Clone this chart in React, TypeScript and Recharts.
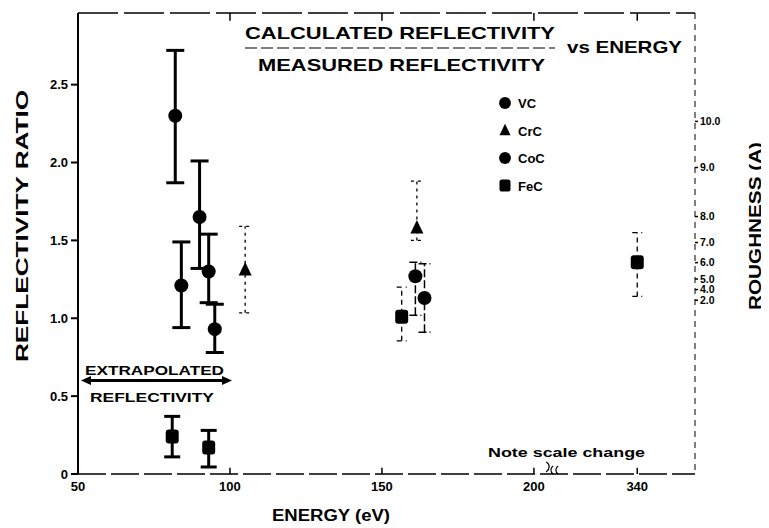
import React from 'react';
import {
  ScatterChart,
  Scatter,
  XAxis,
  YAxis,
  ErrorBar,
  ReferenceLine,
  ReferenceDot,
  Legend,
} from 'recharts';

const FONT = '"Liberation Sans", Arial, Helvetica, sans-serif';

// Energy (eV), reflectivity ratio, lower and upper ends of the error bar
const vcEnergy = [82, 84, 90, 93, 95];
const vcRatio = [2.3, 1.21, 1.65, 1.3, 0.93];
const vcLow = [1.87, 0.94, 1.32, 1.1, 0.78];
const vcHigh = [2.72, 1.49, 2.01, 1.54, 1.09];

const crcEnergy = [105, 161.5];
const crcRatio = [1.31, 1.58];
const crcLow = [1.035, 1.5];
const crcHigh = [1.59, 1.88];

const cocEnergy = [161, 164];
const cocRatio = [1.27, 1.13];
const cocLow = [1.02, 0.91];
const cocHigh = [1.36, 1.35];

const fecEnergy = [81, 93, 156.5, 340];
const fecRatio = [0.24, 0.17, 1.01, 1.36];
const fecLow = [0.11, 0.045, 0.855, 1.14];
const fecHigh = [0.37, 0.28, 1.2, 1.55];

const xTickLabels = [50, 100, 150, 200, 340];
const yTicks = [0, 0.5, 1.0, 1.5, 2.0, 2.5];
const roughnessLabels = ['10.0', '9.0', '8.0', '7.0', '6.0', '5.0', '4.0', '2.0'];
const roughnessPos = [2.264, 1.968, 1.653, 1.486, 1.357, 1.252, 1.184, 1.116];
const legendNames = ['VC', 'CrC', 'CoC', 'FeC'];
const extrapolatedRatio = 0.6;

// axis break: energies above 200 eV are drawn on a compressed scale
const BREAK_AT = 200;
const BREAK_POS = 234;
const plotX = (e: number) => (e <= BREAK_AT ? e : BREAK_POS + (e - 340) * 0.25);

const rows = (en: number[], r: number[], lo: number[], hi: number[], keep = (e: number) => true) =>
  en
    .map((e, i) => ({ x: plotX(e), energy: e, y: r[i], err: [r[i] - lo[i], hi[i] - r[i]] }))
    .filter((d) => keep(d.energy));

const vcData = rows(vcEnergy, vcRatio, vcLow, vcHigh);
const crcData = rows(crcEnergy, crcRatio, crcLow, crcHigh);
const cocData = rows(cocEnergy, cocRatio, cocLow, cocHigh);
const fecLowE = rows(fecEnergy, fecRatio, fecLow, fecHigh, (e) => e < 120);
const fecHighE = rows(fecEnergy, fecRatio, fecLow, fecHigh, (e) => e >= 120);

const marker = (name: string, cx: number, cy: number, s = 1) => {
  if (name === 'CrC')
    return (
      <polygon
        points={`${cx},${cy - 8 * s} ${cx - 6.5 * s},${cy + 5.5 * s} ${cx + 6.5 * s},${cy + 5.5 * s}`}
        fill="#000"
      />
    );
  if (name === 'FeC')
    return <rect x={cx - 6.5 * s} y={cy - 7 * s} width={13 * s} height={14 * s} rx={3 * s} fill="#000" />;
  return <circle cx={cx} cy={cy} r={7 * s} fill="#000" />;
};

const shapeFor = (name: string) => (p: any) => marker(name, p.cx, p.cy);

const ExtrapolatedArrow = (p: any) => {
  const { x1, y1, x2 } = p;
  const a = x1 + 3;
  const b = x2 + 2;
  return (
    <g>
      <line x1={a + 4} y1={y1} x2={b - 4} y2={y1} stroke="#000" strokeWidth={3} />
      <polygon points={`${a},${y1} ${a + 10},${y1 - 4.5} ${a + 10},${y1 + 4.5}`} fill="#000" />
      <polygon points={`${b},${y1} ${b - 10},${y1 - 4.5} ${b - 10},${y1 + 4.5}`} fill="#000" />
      <text x={a + 4} y={y1 - 6} textLength={139} lengthAdjust="spacingAndGlyphs" fontFamily={FONT} fontSize={13} fontWeight={700} fill="#000">
        EXTRAPOLATED
      </text>
      <text x={a + 9} y={y1 + 21} textLength={124} lengthAdjust="spacingAndGlyphs" fontFamily={FONT} fontSize={13} fontWeight={700} fill="#000">
        REFLECTIVITY
      </text>
    </g>
  );
};

const BreakMark = (p: any) => {
  const { cx, cy } = p;
  return (
    <g fill="none" stroke="#000" strokeWidth={1.2}>
      <path d={`M${cx - 6},${cy - 12} c4,2 4,7 0,10`} />
      <path d={`M${cx + 1},${cy - 8} c-3,2 -3,6 0,8`} />
      <path d={`M${cx + 6},${cy - 8} c-3,2 -3,6 0,8`} />
    </g>
  );
};

const renderLegend = () => (
  <svg width={70} height={110} style={{ overflow: 'visible', display: 'block' }}>
    {legendNames.map((n, i) => (
      <g key={n} transform={`translate(0, ${10 + i * 27.5})`}>
        {marker(n, 9, 0, 0.85)}
        <text x={22} y={5} fontFamily={FONT} fontSize={13} fontWeight={700} fill="#000">
          {n}
        </text>
      </g>
    ))}
  </svg>
);

const tickStyle = { fill: '#000', fontSize: 13, fontWeight: 700, fontFamily: FONT };

export default function App() {
  return (
    <ScatterChart width={761} height={520} margin={{ top: 5, right: 0, bottom: 0, left: 0 }}>
      <XAxis
        type="number"
        dataKey="x"
        domain={[50, 253]}
        ticks={xTickLabels.map(plotX)}
        tickFormatter={(v: number) => String(xTickLabels[xTickLabels.map(plotX).indexOf(v)])}
        allowDataOverflow
        height={54}
        tickSize={0}
        tickMargin={8}
        tickLine={false}
        axisLine={{ stroke: '#000', strokeWidth: 1.5, strokeDasharray: '28 5' }}
        tick={tickStyle}
      />
      <YAxis
        type="number"
        dataKey="y"
        domain={[0, 2.96]}
        ticks={yTicks}
        allowDataOverflow
        width={70}
        tickSize={7}
        tickMargin={3}
        tickFormatter={(v: number) => (v === 0 ? '0' : v.toFixed(1))}
        axisLine={{ stroke: '#000', strokeWidth: 2 }}
        tickLine={{ stroke: '#000', strokeWidth: 2 }}
        tick={tickStyle}
      />
      <YAxis
        yAxisId="r"
        orientation="right"
        type="number"
        domain={[0, 2.96]}
        ticks={roughnessPos}
        interval={0}
        allowDataOverflow
        width={74}
        tickSize={3}
        tickMargin={2}
        tickFormatter={(v: number) => roughnessLabels[roughnessPos.indexOf(v)]}
        axisLine={{ stroke: '#000', strokeWidth: 1, strokeDasharray: '6 5' }}
        tickLine={{ stroke: '#000', strokeWidth: 1.5 }}
        tick={{ ...tickStyle, fontSize: 10.5, textAnchor: 'start' }}
      />

      <ReferenceLine y={2.96} stroke="#000" strokeWidth={1.5} strokeDasharray="40 6" />
      {xTickLabels.slice(1).map((t) => (
        <ReferenceLine key={'bt' + t} segment={[{ x: plotX(t), y: 0 }, { x: plotX(t), y: 0.04 }]} stroke="#000" strokeWidth={1.5} />
      ))}
      {xTickLabels.slice(1).map((t) => (
        <ReferenceLine key={'tt' + t} segment={[{ x: plotX(t), y: 2.96 }, { x: plotX(t), y: 2.91 }]} stroke="#000" strokeWidth={1.5} />
      ))}
      <ReferenceLine
        segment={[{ x: 50, y: extrapolatedRatio }, { x: 100, y: extrapolatedRatio }]}
        shape={ExtrapolatedArrow}
      />
      <ReferenceDot x={206} y={0} r={1} shape={BreakMark} />

      <Scatter name="VC" data={vcData} fill="#000" shape={shapeFor('VC')} isAnimationActive={false}>
        <ErrorBar dataKey="err" direction="y" width={9} stroke="#000" strokeWidth={3} isAnimationActive={false} />
      </Scatter>
      <Scatter name="CrC" data={crcData} fill="#000" shape={shapeFor('CrC')} isAnimationActive={false}>
        <ErrorBar dataKey="err" direction="y" width={6} stroke="#000" strokeWidth={1.3} strokeDasharray="3 4" isAnimationActive={false} />
      </Scatter>
      <Scatter name="CoC" data={cocData} fill="#000" shape={shapeFor('CoC')} isAnimationActive={false}>
        <ErrorBar dataKey="err" direction="y" width={6} stroke="#000" strokeWidth={1.5} strokeDasharray="8 3" isAnimationActive={false} />
      </Scatter>
      <Scatter name="FeC" data={fecLowE} fill="#000" shape={shapeFor('FeC')} isAnimationActive={false}>
        <ErrorBar dataKey="err" direction="y" width={8} stroke="#000" strokeWidth={3} isAnimationActive={false} />
      </Scatter>
      <Scatter name="FeC " data={fecHighE} fill="#000" shape={shapeFor('FeC')} isAnimationActive={false}>
        <ErrorBar dataKey="err" direction="y" width={5} stroke="#000" strokeWidth={1.3} strokeDasharray="5 4" isAnimationActive={false} />
      </Scatter>

      <Legend
        layout="vertical"
        align="center"
        verticalAlign="middle"
        content={renderLegend}
        wrapperStyle={{ left: 488, top: 85, width: 70, height: 110 }}
      />

      <text x={237} y={31} textLength={310} lengthAdjust="spacingAndGlyphs" fontFamily={FONT} fontSize={17} fontWeight={700} fill="#000">
        CALCULATED REFLECTIVITY
      </text>
      <line x1={237} x2={547} y1={40} y2={40} stroke="#000" strokeWidth={1.2} strokeDasharray="12 4" />
      <text x={250} y={63} textLength={287} lengthAdjust="spacingAndGlyphs" fontFamily={FONT} fontSize={17} fontWeight={700} fill="#000">
        MEASURED REFLECTIVITY
      </text>
      <text x={559} y={45} textLength={115} lengthAdjust="spacingAndGlyphs" fontFamily={FONT} fontSize={17} fontWeight={700} fill="#000">
        vs ENERGY
      </text>
      <text x={480} y={449} textLength={157} lengthAdjust="spacingAndGlyphs" fontFamily={FONT} fontSize={13} fontWeight={700} fill="#000">
        Note scale change
      </text>
      <text x={264} y={513} textLength={118} lengthAdjust="spacingAndGlyphs" fontFamily={FONT} fontSize={16} fontWeight={700} fill="#000">
        ENERGY (eV)
      </text>
      <text
        transform="translate(20, 218) rotate(-90)"
        textAnchor="middle"
        textLength={272}
        lengthAdjust="spacingAndGlyphs"
        fontFamily={FONT}
        fontSize={16}
        fontWeight={700}
        fill="#000"
      >
        REFLECTIVITY RATIO
      </text>
      <text
        transform="translate(753, 218) rotate(-90)"
        textAnchor="middle"
        textLength={168}
        lengthAdjust="spacingAndGlyphs"
        fontFamily={FONT}
        fontSize={16}
        fontWeight={700}
        fill="#000"
      >
        ROUGHNESS (A)
      </text>
    </ScatterChart>
  );
}
